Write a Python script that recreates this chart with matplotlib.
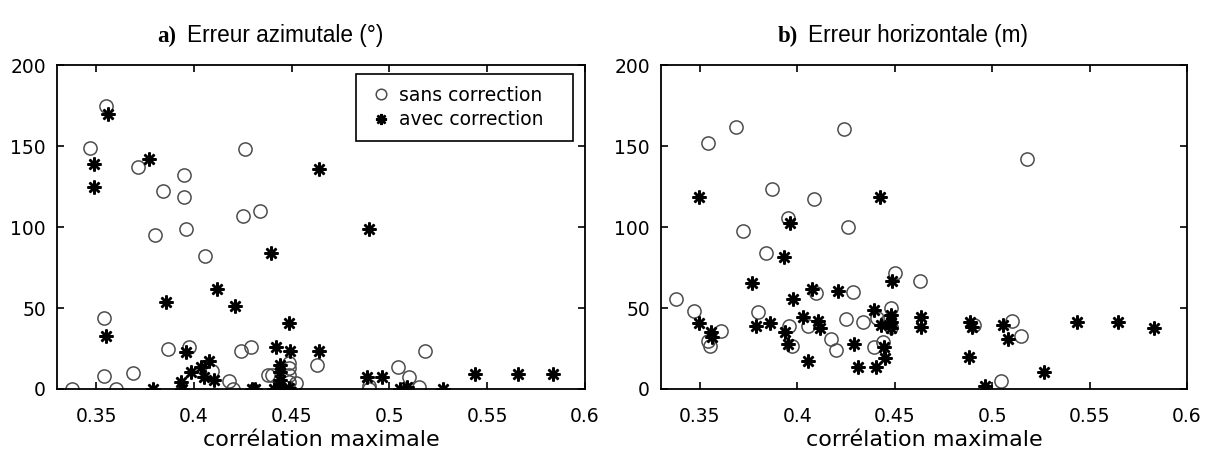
import matplotlib
matplotlib.use("Agg")
import matplotlib.pyplot as plt

# a) erreur azimutale
az_sans_x = [0.355, 0.347, 0.3715, 0.384, 0.395, 0.395, 0.396, 0.380, 0.426, 0.425, 0.434, 0.4055,
             0.354, 0.354, 0.3377, 0.3604, 0.3688, 0.387, 0.3974, 0.4094, 0.418, 0.420, 0.424, 0.4294,
             0.438, 0.440, 0.4486, 0.4486, 0.4486, 0.4486, 0.452, 0.463, 0.4895, 0.4895, 0.5044, 0.510,
             0.515, 0.518]
az_sans_y = [175, 149, 137, 122, 132, 118.5, 99, 95, 148, 107, 110, 82,
             44, 8, 0, 0, 10, 25, 26, 11, 5, 0, 23.5, 25.7,
             8.6, 8.6, 15.8, 12.8, 8.6, 4.5, 3.5, 14.6, 2, 0, 13.4, 7.6,
             1.4, 23.5]
az_avec_x = [0.356, 0.349, 0.349, 0.377, 0.4396, 0.464, 0.4895,
             0.3553, 0.3858, 0.396, 0.379, 0.3935, 0.394, 0.3983, 0.4034, 0.4077, 0.405, 0.4102,
             0.412, 0.421, 0.4295, 0.431, 0.442, 0.4486, 0.449, 0.444, 0.444, 0.444, 0.444, 0.4486,
             0.441, 0.464, 0.4887, 0.4963, 0.5056, 0.509, 0.5274, 0.5436, 0.5655, 0.5837]
az_avec_y = [170, 139, 125, 142, 84, 136, 99,
             33, 54, 23, 0, 4.5, 0, 10.7, 13.8, 17, 7.6, 5.6,
             61.5, 51.4, 0, 0, 26, 40.5, 23.5, 14.8, 10.7, 5.6, 1.4, 0.4,
             0, 23.7, 7.2, 7.2, 0, 1.4, 0, 9.3, 9.3, 9.3]

# b) erreur horizontale
hz_sans_x = [0.3684, 0.3542, 0.4238, 0.3871, 0.4083, 0.3953, 0.372, 0.4259, 0.3837, 0.5177,
             0.3379, 0.3471, 0.3607, 0.3541, 0.3553, 0.380, 0.3958, 0.3974, 0.4055, 0.4097,
             0.4287, 0.4173, 0.4199, 0.425, 0.4338, 0.4395, 0.4442, 0.450, 0.4627, 0.448,
             0.4454, 0.448, 0.441, 0.4905, 0.510, 0.5148, 0.5046]
hz_sans_y = [162, 152, 160.5, 123.5, 117.3, 105.4, 97.5, 100.2, 84, 142,
             55.4, 48, 35.8, 29.8, 26.5, 47.7, 39, 26.5, 38.7, 59,
             60.1, 31, 24.3, 43, 41.5, 25.7, 29.2, 71.4, 66.5, 49.8,
             41.5, 38.5, 44, 39.5, 42.2, 32.9, 4.9]
hz_avec_x = [0.3493, 0.4422, 0.3964, 0.393, 0.3769, 0.3493, 0.3556, 0.3561, 0.3786, 0.3860,
             0.398, 0.4073, 0.4208, 0.3934, 0.3953, 0.403, 0.4104, 0.4115, 0.4055, 0.4292,
             0.431, 0.4391, 0.4405, 0.4445, 0.4452, 0.4485, 0.448, 0.448, 0.448, 0.4428,
             0.4636, 0.4636, 0.4888, 0.4895, 0.5055, 0.508, 0.4883, 0.4964, 0.5267, 0.5435,
             0.5648, 0.5832]
hz_avec_y = [118.7, 118.7, 102.3, 81.5, 65.2, 40.9, 35.4, 32.3, 39, 40.5,
             55.4, 62, 60.5, 35.4, 28, 44.6, 41.8, 37.5, 17.2, 28,
             13.6, 49, 13.6, 26.1, 18.9, 66.5, 45.7, 41.5, 37.5, 39.5,
             44.6, 38, 41.5, 38.5, 39.5, 30.7, 19.5, 1.9, 10.7, 41.5,
             41.5, 37.9]

xticks = [0.35, 0.4, 0.45, 0.5, 0.55, 0.6]
xtick_labels = ["0.35", "0.4", "0.45", "0.5", "0.55", "0.6"]
yticks = [0, 50, 100, 150, 200]
xlabel = "corrélation maximale"
legend_labels = ["sans correction", "avec correction"]

etoile = (8, 2, 0)

fig = plt.figure(figsize=(12.05, 4.53), dpi=100)
ax1 = fig.add_axes([57 / 1205, 64 / 453, 528 / 1205, 324 / 453])
ax2 = fig.add_axes([661 / 1205, 64 / 453, 526 / 1205, 324 / 453])


def dessiner(ax, sx, sy, ax_, ay):
    ax.plot(sx, sy, linestyle="none", marker="o", markersize=9.5, markerfacecolor="none",
            markeredgecolor="#4d4d4d", markeredgewidth=1.1, label=legend_labels[0])
    ax.plot(ax_, ay, linestyle="none", marker=etoile, markersize=10, markeredgecolor="black",
            markerfacecolor="black", markeredgewidth=1.8, label=legend_labels[1])
    ax.set_xlim(0.33, 0.6)
    ax.set_ylim(0, 200)
    ax.set_xticks(xticks)
    ax.set_xticklabels(xtick_labels)
    ax.set_yticks(yticks)
    ax.tick_params(direction="in", top=True, right=True, length=5, width=1.2,
                   labelsize=13.5)
    ax.tick_params(axis="x", pad=13)
    ax.tick_params(axis="y", pad=8)
    for s in ax.spines.values():
        s.set_linewidth(1.3)
    ax.set_xlabel(xlabel, fontsize=16, labelpad=3)


dessiner(ax1, az_sans_x, az_sans_y, az_avec_x, az_avec_y)
dessiner(ax2, hz_sans_x, hz_sans_y, hz_avec_x, hz_avec_y)

leg = ax1.legend(loc="upper left", bbox_to_anchor=(0.5657, 0.7664, 0.4113, 0.2046),
                 mode="expand", borderaxespad=0,
                 fontsize=13.5, frameon=True, fancybox=False, edgecolor="black",
                 framealpha=1, markerscale=0.8, handlelength=1.5, handletextpad=0.2,
                 labelspacing=0.3, borderpad=0.6)
leg.get_frame().set_linewidth(1.2)

# titres
ty = 1 - 42 / 453
fig.text(157 / 1205, ty, "a)", fontsize=16.5, fontweight="bold", family="Liberation Serif",
         va="baseline", ha="left")
fig.text(187 / 1205, ty, "Erreur azimutale (°)", fontsize=16.3, family="Liberation Sans",
         va="baseline", ha="left")
fig.text(778 / 1205, ty, "b)", fontsize=16.5, fontweight="bold", family="Liberation Serif",
         va="baseline", ha="left")
fig.text(808 / 1205, ty, "Erreur horizontale (m)", fontsize=16.3, family="Liberation Sans",
         va="baseline", ha="left")

fig.savefig("out.png", dpi=100)
